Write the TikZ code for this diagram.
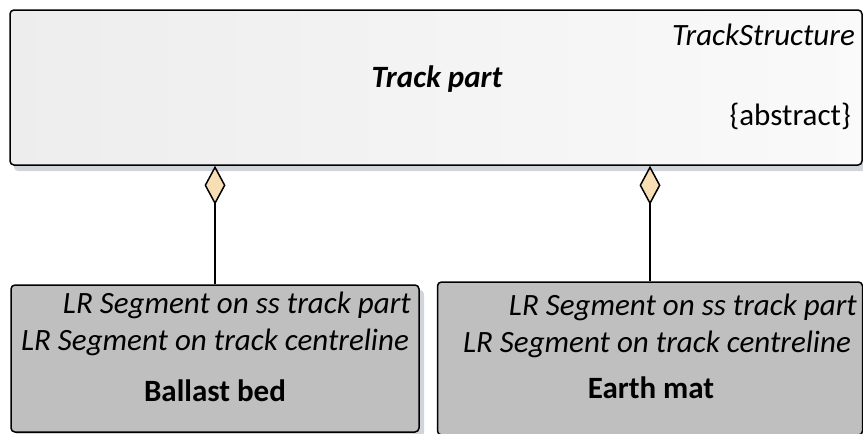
\documentclass[tikz,border=0pt]{standalone}
\usepackage{fontspec}
\setmainfont{Carlito}
\usetikzlibrary{shapes}
\usetikzlibrary{shadows}
\usetikzlibrary{arrows.meta}
\definecolor{aggfill}{HTML}{F7DEB5}
\definecolor{shadowc}{HTML}{D2D4DC}
\tikzset{
    topbox/.style = {rectangle, rounded corners=4pt, line width=1.5pt, draw=black, left color=black!7, right color=black!2, shading angle=90, drop shadow={shadow xshift=4pt, shadow yshift=-6pt, fill=shadowc, opacity=1}},
    partbox/.style = {rectangle, rounded corners=4pt, line width=1.5pt, draw=black, fill=black!25, drop shadow={shadow xshift=5pt, shadow yshift=-5pt, fill=shadowc, opacity=1}},
    txt/.style = {inner sep=0pt, font=\fontsize{31}{36}\selectfont, text=black},
    txti/.style = {txt, font=\fontsize{31}{36}\selectfont\itshape},
    txtb/.style = {txt, font=\fontsize{31}{36}\selectfont\bfseries},
    txtbi/.style = {txt, font=\fontsize{31}{36}\selectfont\bfseries\itshape},
    edgea/.style = {-{Diamond[length=39pt, width=21pt, fill=aggfill]}, line width=1.5pt, black},
}

\begin{document}
\begin{tikzpicture}[x=1pt, y=-1pt]
\useasboundingbox (0,0) rectangle (863,434);
\node[topbox, minimum width=852pt, minimum height=155pt] at (436,87.5) (track) {};
\node[partbox, minimum width=408pt, minimum height=147pt] at (215,358.5) (bal) {};
\node[partbox, minimum width=425pt, minimum height=153pt] at (650,358.5) (earth) {};
%
\node[txti, anchor=base east] at (855,45) (tsst) {TrackStructure};
\node[txtbi, anchor=base] at (437,87) (tpname) {Track part};
\node[txt, anchor=base east] at (851,125) (tpabs) {\{abstract\}};
%
\node[txti, anchor=base east] at (411,313) (bal1) {LR Segment on ss track part};
\node[txti, anchor=base east] at (409,350) (bal2) {LR Segment on track centreline};
\node[txtb, anchor=base] at (215,401) (balname) {Ballast bed};
%
\node[txti, anchor=base east] at (857,315) (earth1) {LR Segment on ss track part};
\node[txti, anchor=base east] at (851,352) (earth2) {LR Segment on track centreline};
\node[txtb, anchor=base] at (651,398) (earthname) {Earth mat};
%
\draw[edgea] (bal.north) -- (bal.north |- track.south);
\draw[edgea] (earth.north) -- (earth.north |- track.south);
\end{tikzpicture}
\end{document}
